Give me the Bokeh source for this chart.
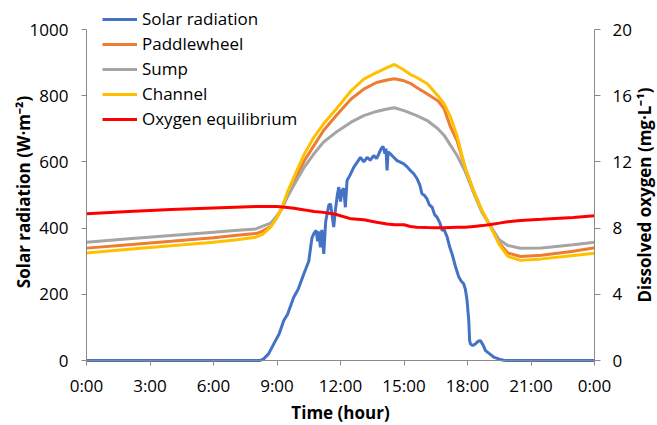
import math
from bokeh.plotting import figure
from bokeh.models import (Range1d, LinearAxis, FixedTicker, Legend, LegendItem,
                          ColumnDataSource, Label)
from bokeh.embed import file_html
from bokeh.resources import INLINE

# ---- data ----
solar_t = [0, 8.2, 8.37, 8.6, 8.93, 9.1, 9.32, 9.5, 9.79, 10.0, 10.27, 10.5, 10.65, 10.74, 10.85,
           10.92, 10.98, 11.05, 11.12, 11.21, 11.3, 11.37, 11.45, 11.53, 11.6, 11.68, 11.76, 11.85,
           11.92, 12.0, 12.07, 12.15, 12.23, 12.31, 12.45, 12.63, 12.8, 12.94, 13.1, 13.26, 13.4,
           13.57, 13.7, 13.81, 13.92, 14.01, 14.1, 14.15, 14.2, 14.25, 14.36, 14.5, 14.67, 14.8,
           14.99, 15.15, 15.3, 15.45, 15.62, 15.75, 15.85, 15.95, 16.09, 16.2, 16.33, 16.45, 16.56,
           16.7, 16.8, 16.9, 17.04, 17.15, 17.27, 17.45, 17.59, 17.7, 17.82, 17.9, 17.98, 18.02,
           18.06, 18.1, 18.14, 18.25, 18.37, 18.5, 18.61, 18.75, 18.85, 19.05, 19.24, 19.5, 19.7,
           19.9, 24]
solar_v = [0, 0, 5, 20, 60, 80, 121, 140, 191, 215, 262, 300, 370, 383, 393,
           360, 390, 342, 395, 322, 420, 443, 470, 473, 440, 403, 455, 500,
           524, 480, 514, 520, 463, 544, 560, 584, 600, 614, 600, 614, 605,
           619, 610, 624, 640, 647, 625, 640, 574, 630, 624, 615, 604, 600,
           594, 585, 574, 565, 549, 530, 503, 500, 488, 470, 463, 440, 433,
           415, 393, 395, 373, 345, 322, 280, 252, 240, 232, 215, 181, 150,
           121, 60, 50, 45, 50, 58, 60, 45, 30, 20, 10, 4, 1,
           0, 0]

do_t = [0, 2, 4, 6, 7, 8, 8.3, 8.7, 9.0, 9.24, 9.5, 9.8, 10.3, 10.75, 11.2, 11.8, 12.5, 13.1,
        13.7, 14.2, 14.55, 15.0, 15.3, 15.6, 16.1, 16.6, 16.9, 17.2, 17.5, 17.9, 18.3, 18.7,
        19.1, 19.5, 19.9, 20.5, 21.5, 23.0, 24]
paddlewheel = [6.79, 7.0, 7.2, 7.42, 7.55, 7.67, 7.8, 8.1, 8.65, 9.2, 10.0, 10.85, 12.08, 13.0,
               13.9, 14.8, 15.8, 16.4, 16.8, 16.95, 17.02, 16.9, 16.75, 16.5, 16.1, 15.7, 15.2,
               14.1, 13.3, 11.6, 10.2, 9.0, 8.1, 7.1, 6.5, 6.28, 6.36, 6.6, 6.81]
sump = [7.15, 7.35, 7.55, 7.75, 7.85, 7.95, 8.1, 8.3, 8.75, 9.2, 9.9, 10.6, 11.7, 12.5, 13.2,
        13.8, 14.4, 14.8, 15.05, 15.2, 15.27, 15.1, 14.95, 14.8, 14.5, 14.0, 13.6, 13.0, 12.4,
        11.4, 10.1, 8.9, 8.1, 7.3, 6.95, 6.78, 6.8, 7.0, 7.15]
channel = [6.5, 6.72, 6.93, 7.15, 7.28, 7.45, 7.6, 8.06, 8.65, 9.26, 10.2, 11.08, 12.5, 13.5,
           14.3, 15.2, 16.3, 17.0, 17.4, 17.7, 17.89, 17.55, 17.28, 17.1, 16.72, 16.0, 15.5,
           14.7, 13.6, 11.6, 10.2, 9.0, 8.05, 7.0, 6.3, 6.05, 6.14, 6.34, 6.48]
oxygen_eq = [8.86, 9.0, 9.12, 9.22, 9.26, 9.3, 9.3, 9.3, 9.3, 9.28, 9.25, 9.2, 9.1, 9.0, 8.95,
             8.82, 8.56, 8.5, 8.35, 8.25, 8.2, 8.2, 8.1, 8.05, 8.03, 8.02, 8.02, 8.04, 8.05,
             8.05, 8.1, 8.15, 8.22, 8.3, 8.38, 8.46, 8.53, 8.64, 8.74]

x_ticks = [0, 3, 6, 9, 12, 15, 18, 21, 24]
x_tick_labels = ["0:00", "3:00", "6:00", "9:00", "12:00", "15:00", "18:00", "21:00", "0:00"]
left_ticks = [0, 200, 400, 600, 800, 1000]
right_ticks = [0, 4, 8, 12, 16, 20]

names = ["Solar radiation", "Paddlewheel", "Sump", "Channel", "Oxygen equilibrium"]
colors = ["#4472C4", "#ED7D31", "#A5A5A5", "#FFC000", "#FF0000"]

x_title = "Time (hour)"
left_title = "Solar radiation (W·m⁻²)"
right_title = "Dissolved oxygen (mg·L⁻¹)"

FONT = "Open Sans"
AXIS_GREY = "#898989"
FS = "17px"
LW = 3

# ---- layout (pixels): the frame covers the whole canvas, the axes are pinned
# at fixed locations so that the plotting area is 86..594 x 29..360 ----
W, H = 657, 425
PL, PR, PT, PB = 86, 594, 29, 360          # plot-area edges in pixels
XMAX, YMAX, DOMAX = 24.0, 1000.0, 20.0
sx = (PR - PL) / XMAX
sy = (PB - PT) / YMAX
sdo = (PB - PT) / DOMAX
x_range = Range1d(-PL / sx, XMAX + (W - PR) / sx)
y_range = Range1d(-(H - PB) / sy, YMAX + PT / sy)
do_range = Range1d(-(H - PB) / sdo, DOMAX + PT / sdo)

p = figure(width=W, height=H, output_backend="svg", toolbar_location=None,
           x_range=x_range, y_range=y_range,
           min_border_left=0, min_border_right=0, min_border_top=0, min_border_bottom=0)
p.extra_y_ranges = {"do": do_range}
p.grid.visible = False
p.outline_line_color = None

solar_src = ColumnDataSource(dict(t=solar_t, v=solar_v))
do_src = ColumnDataSource(dict(t=do_t, pw=paddlewheel, sump=sump, ch=channel, eq=oxygen_eq))

r_solar = p.line("t", "v", source=solar_src, line_color=colors[0], line_width=LW)
r_pw = p.line("t", "pw", source=do_src, y_range_name="do", line_color=colors[1], line_width=LW)
r_sump = p.line("t", "sump", source=do_src, y_range_name="do", line_color=colors[2], line_width=LW)
r_ch = p.line("t", "ch", source=do_src, y_range_name="do", line_color=colors[3], line_width=LW)
r_eq = p.line("t", "eq", source=do_src, y_range_name="do", line_color=colors[4], line_width=LW)

def style(ax):
    ax.axis_line_color = AXIS_GREY
    ax.major_tick_line_color = AXIS_GREY
    ax.minor_tick_line_color = None
    ax.major_tick_in = 0
    ax.major_tick_out = 5
    ax.major_label_text_font = FONT
    ax.major_label_text_font_size = FS
    ax.major_label_text_color = "#000000"

xa = p.xaxis[0]
style(xa)
xa.fixed_location = 0
xa.bounds = (0, XMAX)
xa.ticker = FixedTicker(ticks=x_ticks)
xa.major_label_overrides = {t: l for t, l in zip(x_ticks, x_tick_labels)}
xa.major_label_standoff = 8

ya = p.yaxis[0]
style(ya)
ya.fixed_location = 0
ya.bounds = (0, YMAX)
ya.ticker = FixedTicker(ticks=left_ticks)
ya.major_label_standoff = 13

right_axis = LinearAxis(y_range_name="do")
p.add_layout(right_axis, "right")
style(right_axis)
right_axis.fixed_location = XMAX
right_axis.bounds = (0, DOMAX)
right_axis.ticker = FixedTicker(ticks=right_ticks)
right_axis.major_tick_out = 6
right_axis.major_label_standoff = 12

def title(text, **kw):
    lab = Label(text=text, text_font=FONT, text_font_size=FS, text_font_style="bold",
                text_color="#000000", text_align="center", text_baseline="middle", **kw)
    p.add_layout(lab)

title(x_title, x=XMAX / 2, y=0, y_offset=-(412 - PB))
title(left_title, x=0, y=YMAX / 2, x_offset=-(PL - 23), y_offset=3,
      angle=math.pi / 2, angle_units="rad")
title(right_title, x=XMAX, y=DOMAX / 2, y_range_name="do", x_offset=644 - PR,
      angle=math.pi / 2, angle_units="rad")

legend = Legend(items=[LegendItem(label=n, renderers=[r]) for n, r in
                       zip(names, [r_solar, r_pw, r_sump, r_ch, r_eq])],
                location=(16 + PL, 230 + (H - PB)))
legend.padding = 0
legend.margin = 0
legend.spacing = 2
legend.glyph_height = 20
legend.label_height = 20
legend.glyph_width = 35
legend.label_standoff = 5
legend.label_text_font = FONT
legend.label_text_font_size = FS
legend.label_text_color = "#000000"
legend.background_fill_alpha = 0
legend.border_line_color = None
p.add_layout(legend)

open("out.html", "w").write(file_html(p, INLINE))
